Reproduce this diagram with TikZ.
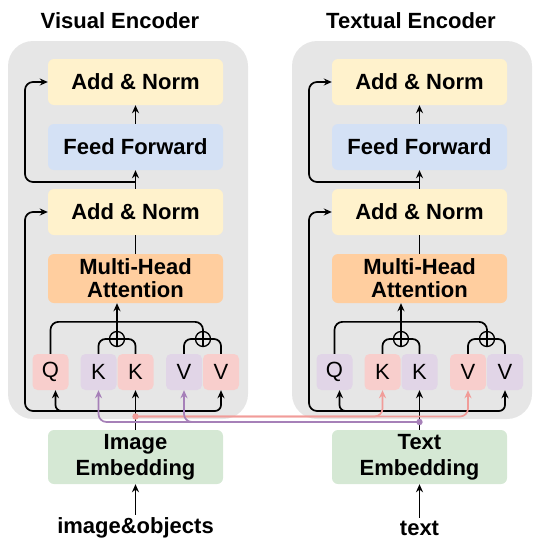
\documentclass[tikz,border=0pt]{standalone}
\usepackage{fontspec}
\setmainfont{Liberation Sans}
\usetikzlibrary{arrows.meta,calc}
\definecolor{panel}{HTML}{E6E6E6}
\definecolor{yel}{HTML}{FFF2CC}
\definecolor{blu}{HTML}{D4E1F5}
\definecolor{ora}{HTML}{FFCE9F}
\definecolor{pnk}{HTML}{F8CECC}
\definecolor{pur}{HTML}{E1D5E7}
\definecolor{grn}{HTML}{D5E8D4}
\definecolor{pline}{HTML}{F19C99}
\definecolor{uline}{HTML}{A680B8}
\begin{document}
\begin{tikzpicture}[x=1pt,y=-1pt,
  box/.style={rounded corners=6pt, minimum width=175pt, minimum height=46pt, inner sep=0pt,
    font=\fontsize{22}{23}\selectfont\bfseries, align=center},
  qkv/.style={rounded corners=5pt, minimum width=36pt, minimum height=36pt, inner sep=0pt,
    font=\fontsize{22}{25}\selectfont},
  ttl/.style={font=\fontsize{22}{25}\selectfont\bfseries, inner sep=1pt},
  ln/.style={line width=1.7pt},
  arr/.style={line width=1.7pt, -{Stealth[length=8pt,width=7pt]}},
  opl/.style={circle, draw, line width=1.3pt, minimum size=15pt, inner sep=0pt},
]
\useasboundingbox (0,0) rectangle (540,546);
\foreach \ox/\p/\a/\b/\title/\tx/\emb/\inp in
  {0/L/pnk/pur/{Visual Encoder}/120/{Image}/{image\&objects},
   284/R/pur/pnk/{Textual Encoder}/411/{Text}/{text}} {
  \fill[panel, rounded corners=25pt] (8+\ox,41) rectangle (248+\ox,419);
  \node[ttl] (title\p) at (\tx,21) {\title};
  \node[box, fill=yel] (an2\p) at (135.5+\ox,82) {Add \& Norm};
  \node[box, fill=blu] (ff\p) at (135.5+\ox,147) {Feed Forward};
  \node[box, fill=yel] (an1\p) at (135.5+\ox,212) {Add \& Norm};
  \node[box, fill=ora, minimum height=49pt] (mha\p) at (135.5+\ox,278.5) {Multi-Head\\Attention};
  \node[qkv, fill=\a] (q\p) at (50.5+\ox,372) {Q};
  \node[qkv, fill=\b] (ka\p) at (98.5+\ox,372) {K};
  \node[qkv, fill=\a] (kb\p) at (135.5+\ox,372) {K};
  \node[qkv, fill=\b] (va\p) at (184+\ox,372) {V};
  \node[qkv, fill=\a] (vb\p) at (221+\ox,372) {V};
  \node[opl] (oa\p) at (117+\ox,339) {};
  \node[opl] (ob\p) at (203+\ox,339) {};
  \draw[line width=1.3pt] (oa\p.north) -- (oa\p.south) (oa\p.west) -- (oa\p.east);
  \draw[line width=1.3pt] (ob\p.north) -- (ob\p.south) (ob\p.west) -- (ob\p.east);
  \draw[ln, rounded corners=7pt] (ka\p.north) |- (oa\p.west);
  \draw[ln, rounded corners=7pt] (kb\p.north) |- (oa\p.east);
  \draw[ln, rounded corners=7pt] (va\p.north) |- (ob\p.west);
  \draw[ln, rounded corners=7pt] (vb\p.north) |- (ob\p.east);
  \draw[ln, rounded corners=8pt] (q\p.north) |- ($(ob\p.north)+(0,-9)$) -- (ob\p.north);
  \draw[arr] (oa\p.north) -- (oa\p.north |- mha\p.south);
  \draw[ln] (mha\p.north) -- (an1\p.south);
  \draw[arr] (an1\p.north) -- (ff\p.south);
  \draw[arr] (ff\p.north) -- (an2\p.south);
  \coordinate (r\p) at (135.5+\ox,182);
  \draw[arr, rounded corners=8pt] (r\p) -| (25+\ox,120) |- (an2\p.west);
  \coordinate (j\p) at (135.5+\ox,411);
  \draw[arr, rounded corners=8pt] (j\p) -| (25+\ox,300) |- (an1\p.west);
  \draw[arr, rounded corners=6pt] (j\p) -| (vb\p.south);
  \draw[arr, rounded corners=6pt] (j\p) -| ([xshift=5pt]q\p.south);
  \node[box, fill=grn, minimum height=54pt, font=\fontsize{22}{26}\selectfont\bfseries]
    (emb\p) at (135.5+\ox,457) {\emb\\Embedding};
  \node[ttl, inner sep=3pt] (in\p) at (135.5+\ox,528) {\inp};
  \draw[arr] (in\p.north) -- (emb\p.south);
  \draw[arr] (emb\p.north) -- (kb\p.south);
}
\coordinate (pd) at (135.5,416.5);
\draw[arr, pline, rounded corners=8pt] (pd) -| (kaR.south);
\draw[arr, pline, rounded corners=8pt] (pd) -| (vaR.south);
\fill[pline] (pd) circle (3.2pt);
\coordinate (ud) at (419.5,422);
\draw[arr, uline, rounded corners=8pt] (ud) -| (kaL.south);
\draw[arr, uline, rounded corners=8pt] (ud) -| (vaL.south);
\fill[uline] (ud) circle (3.2pt);
\end{tikzpicture}
\end{document}
